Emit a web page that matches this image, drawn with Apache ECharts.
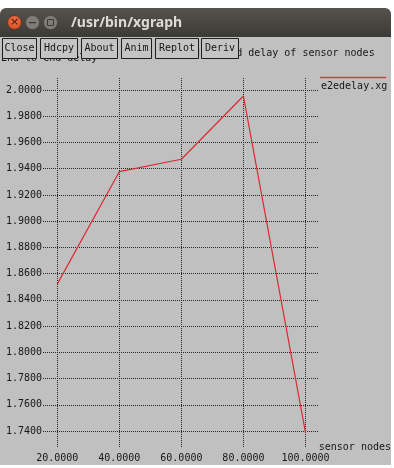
<!DOCTYPE html>
<html>
<head>
<meta charset="utf-8">
<script src="https://cdn.jsdelivr.net/npm/echarts@6/dist/echarts.min.js"></script>
<style>
html,body{margin:0;padding:0;background:#ffffff;}
#chart{width:394px;height:468px;}
</style>
</head>
<body>
<div id="chart"></div>
<script>
// ---- data ----
const xValues = [20, 40, 60, 80, 100];
const delayValues = [1.852, 1.9377, 1.9472, 1.9954, 1.7387];
const xTicks = [20, 40, 60, 80, 100];
const yTicks = [1.74, 1.76, 1.78, 1.80, 1.82, 1.84, 1.86, 1.88, 1.90, 1.92, 1.94, 1.96, 1.98, 2.00];
const seriesName = 'e2edelay.xg';
const chartTitle = 'End to end delay of sensor nodes';
const yAxisTitle = 'End to end delay';
const xAxisTitle = 'sensor nodes';
const windowTitle = '/usr/bin/xgraph';
const buttonLabels = ['Close', 'Hdcpy', 'About', 'Anim', 'Replot', 'Deriv'];

const MONO = '"DejaVu Sans Mono", "Liberation Mono", monospace';
const TXT = '#161616';
const GRID = '#262626';

const pairs = xValues.map((x, i) => [x, delayValues[i]]);

// button boxes (window chrome)
const buttonBoxes = [[2, 34], [40, 37], [81, 36], [121, 30], [155, 43], [201, 37]];
const buttonGraphics = buttonLabels.map((lab, i) => ({
  type: 'group',
  z: 100,
  children: [
    { type: 'rect', shape: { x: buttonBoxes[i][0] + 0.5, y: 38.5, width: buttonBoxes[i][1], height: 20 },
      style: { fill: '#c4c4c4', stroke: '#1e1e1e', lineWidth: 1 }, z: 100 },
    { type: 'text', x: buttonBoxes[i][0] + buttonBoxes[i][1] / 2 + 0.5, y: 48.5, z: 101,
      style: { text: lab, font: '10px ' + MONO, fill: TXT, align: 'center', verticalAlign: 'middle' } }
  ]
}));

const chart = echarts.init(document.getElementById('chart'), null, { renderer: 'canvas' });
chart.setOption({
  animation: false,
  backgroundColor: '#ffffff',
  grid: { left: 43, top: 77, right: 74, bottom: 21, containLabel: false },
  xAxis: {
    type: 'value',
    min: 15.41, max: 104.27,
    name: xAxisTitle,
    nameLocation: 'end',
    nameGap: 0,
    nameTextStyle: { fontFamily: MONO, fontSize: 10, color: TXT, align: 'left', verticalAlign: 'middle', padding: [4, 0, 0, 0] },
    axisLine: { show: false },
    axisTick: { show: false },
    splitLine: { show: false },
    axisLabel: {
      customValues: xTicks,
      margin: 6,
      fontFamily: MONO, fontSize: 10, color: TXT,
      formatter: v => Number(v).toFixed(4)
    }
  },
  yAxis: {
    type: 'value',
    min: 1.7278, max: 2.00991,
    axisLine: { show: false },
    axisTick: { show: false },
    splitLine: { show: false },
    axisLabel: {
      customValues: yTicks,
      margin: 1,
      fontFamily: MONO, fontSize: 10, color: TXT,
      formatter: v => Number(v).toFixed(4)
    }
  },
  series: [
    {
      name: 'grid',
      type: 'line',
      data: pairs,
      showSymbol: false,
      silent: true,
      z: 1,
      lineStyle: { width: 0, opacity: 0 },
      markLine: {
        silent: true,
        symbol: ['none', 'none'],
        label: { show: false },
        animation: false,
        lineStyle: { color: GRID, width: 1, type: [1, 1] },
        emphasis: { disabled: true },
        data: xTicks.map(v => ({ xAxis: v })).concat(yTicks.map(v => ({ yAxis: v })))
      }
    },
    {
      name: seriesName,
      type: 'line',
      data: pairs,
      showSymbol: false,
      z: 5,
      lineStyle: { color: '#dc2a34', width: 1.2 }
    }
  ],
  graphic: [
    // window body
    { type: 'rect', shape: { x: 0, y: 36, width: 391, height: 429 }, style: { fill: '#c0c0c0' }, z: -10, silent: true },
    // title bar
    { type: 'rect', shape: { x: 0, y: 8, width: 391, height: 29, r: [6, 6, 0, 0] },
      style: { fill: { type: 'linear', x: 0, y: 0, x2: 0, y2: 1, colorStops: [{ offset: 0, color: '#55534d' }, { offset: 1, color: '#3b3a36' }] } }, z: 90, silent: true },
    { type: 'circle', shape: { cx: 14.5, cy: 22.5, r: 7 }, style: { fill: { type: 'radial', x: 0.5, y: 0.4, r: 0.6, colorStops: [{ offset: 0, color: '#f47a4e' }, { offset: 1, color: '#d8461f' }] }, stroke: '#3a2a22', lineWidth: 0.6 }, z: 91 },
    { type: 'text', x: 14.5, y: 22.5, z: 92, style: { text: '×', font: 'bold 11px "DejaVu Sans"', fill: '#5a2410', align: 'center', verticalAlign: 'middle' } },
    { type: 'circle', shape: { cx: 32.5, cy: 22.5, r: 7 }, style: { fill: '#7f7d77', stroke: '#3a3935', lineWidth: 0.6 }, z: 91 },
    { type: 'rect', shape: { x: 29, y: 22, width: 7, height: 1.2 }, style: { fill: '#3a3935' }, z: 92 },
    { type: 'circle', shape: { cx: 50.5, cy: 22.5, r: 7 }, style: { fill: '#7f7d77', stroke: '#3a3935', lineWidth: 0.6 }, z: 91 },
    { type: 'rect', shape: { x: 47.5, y: 19.5, width: 6, height: 6 }, style: { fill: 'none', stroke: '#3a3935', lineWidth: 1 }, z: 92 },
    { type: 'text', x: 71, y: 23, z: 92, style: { text: windowTitle, font: 'bold 14px "Noto Sans", "DejaVu Sans", sans-serif', fill: '#dedbd3', align: 'left', verticalAlign: 'middle' } },
    // plot title and y axis title (drawn under the buttons)
    { type: 'text', x: 182, y: 53, z: 50, style: { text: chartTitle, font: '10px ' + MONO, fill: TXT, align: 'left', verticalAlign: 'middle' } },
    { type: 'text', x: 1, y: 58, z: 50, style: { text: yAxisTitle, font: '10px ' + MONO, fill: TXT, align: 'left', verticalAlign: 'middle' } },
    // legend
    { type: 'line', shape: { x1: 320, y1: 77.5, x2: 386, y2: 77.5 }, style: { stroke: '#e0393d', lineWidth: 1.5 }, z: 50 },
    { type: 'text', x: 321, y: 86, z: 50, style: { text: seriesName, font: '10px ' + MONO, fill: TXT, align: 'left', verticalAlign: 'middle' } }
  ].concat(buttonGraphics)
});
</script>
</body>
</html>
